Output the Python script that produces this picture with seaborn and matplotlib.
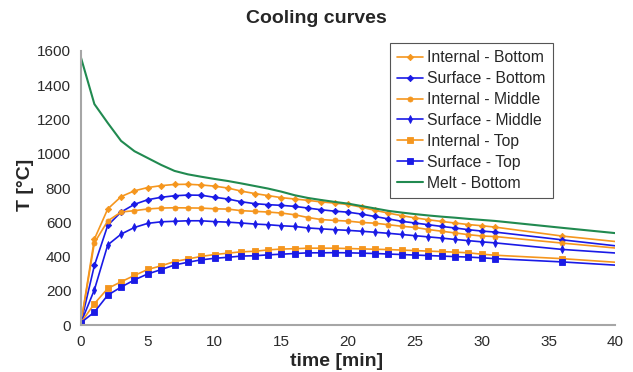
import numpy as np
import pandas as pd
import matplotlib
matplotlib.use("Agg")
import matplotlib.pyplot as plt
import seaborn as sns

# time axis (min)
time_min = list(range(0, 32)) + [36, 40]

internal_bottom = [15, 502, 678, 750, 784, 803, 814, 821, 822, 818, 811, 800, 782, 768, 756, 744,
                   736, 728, 719, 712, 704, 688, 670, 654, 639, 626, 615, 605, 596, 587, 580, 572,
                   520, 488]
surface_bottom = [15, 348, 582, 660, 705, 732, 746, 755, 759, 758, 746, 736, 720, 709, 703, 699,
                  693, 683, 673, 665, 659, 648, 634, 620, 606, 596, 586, 576, 567, 557, 549, 543,
                  498, 463]
internal_middle = [15, 480, 608, 660, 668, 678, 683, 685, 684, 683, 679, 677, 668, 664, 660, 654,
                   644, 628, 616, 611, 607, 599, 595, 586, 577, 570, 558, 548, 538, 528, 520, 517,
                   479, 450]
surface_middle = [15, 206, 468, 531, 570, 594, 603, 606, 609, 609, 604, 601, 596, 590, 586, 580,
                  576, 567, 562, 557, 553, 548, 542, 536, 529, 522, 515, 508, 500, 493, 486, 480,
                  442, 421]
internal_top = [15, 125, 214, 253, 290, 325, 346, 371, 386, 401, 412, 420, 428, 431, 439, 444,
                446, 449, 449, 449, 447, 445, 443, 441, 438, 435, 432, 429, 426, 422, 414, 408,
                388, 367]
surface_top = [15, 76, 175, 222, 264, 299, 324, 351, 367, 381, 390, 396, 403, 405, 410, 414,
               418, 422, 422, 423, 422, 420, 418, 415, 412, 409, 406, 403, 400, 397, 393, 388,
               369, 350]
melt_bottom = [1560, 1290, 1180, 1075, 1015, 975, 935, 900, 880, 866, 853, 841, 827, 812, 797, 779,
               758, 742, 730, 719, 709, 695, 681, 667, 657, 648, 640, 633, 627, 620, 614, 608,
               568, 537]

series_names = ["Internal - Bottom", "Surface - Bottom", "Internal - Middle",
                "Surface - Middle", "Internal - Top", "Surface - Top", "Melt - Bottom"]
series_values = [internal_bottom, surface_bottom, internal_middle,
                 surface_middle, internal_top, surface_top, melt_bottom]

ORANGE = "#F5961E"
BLUE = "#1A1AE6"
GREEN = "#218A50"
styles = {
    "Internal - Bottom": dict(color=ORANGE, marker="D", ms=3.2, lw=1.2),
    "Surface - Bottom": dict(color=BLUE, marker="D", ms=3.2, lw=1.2),
    "Internal - Middle": dict(color=ORANGE, marker="o", ms=3.6, lw=1.2),
    "Surface - Middle": dict(color=BLUE, marker="d", ms=4.0, lw=1.2),
    "Internal - Top": dict(color=ORANGE, marker="s", ms=4.2, lw=1.2),
    "Surface - Top": dict(color=BLUE, marker="s", ms=4.2, lw=1.2),
    "Melt - Bottom": dict(color=GREEN, marker=None, ms=0, lw=1.5),
}

df = pd.concat([pd.DataFrame({"time": time_min, "T": vals, "series": name})
                for name, vals in zip(series_names, series_values)], ignore_index=True)

sns.set_theme(style="white")
plt.rcParams["font.family"] = ["Liberation Sans", "DejaVu Sans"]

fig = plt.figure(figsize=(6.33, 3.72), dpi=100)
ax = fig.add_axes([0.128, 0.126, 0.844, 0.737])

# last point (t=40) has no marker in the original
mark_idx = list(range(len(time_min) - 1))
for name in series_names:
    st = styles[name]
    sub = df[df["series"] == name]
    kw = dict(color=st["color"], linewidth=st["lw"], label=name)
    if st["marker"]:
        kw.update(marker=st["marker"], markersize=st["ms"], markeredgewidth=0.6,
                  markeredgecolor=st["color"], markevery=mark_idx)
    sns.lineplot(data=sub, x="time", y="T", ax=ax, **kw)

ax.set_xlim(0, 40)
ax.set_ylim(0, 1600)
ax.set_xticks(range(0, 41, 5))
ax.set_yticks(range(0, 1601, 200))
for side in ["top", "right"]:
    ax.spines[side].set_visible(False)
for side in ["left", "bottom"]:
    ax.spines[side].set_color("#A6A6A6")
    ax.spines[side].set_linewidth(1.5)
ax.tick_params(axis="both", which="major", labelsize=11, colors="#A6A6A6",
               labelcolor="#2b2b2b", length=4, width=1.2, direction="out", pad=3)

ax.set_xlabel("time [min]", fontsize=14, fontweight="bold")
ax.xaxis.set_label_coords(0.479, -0.1)
ax.set_ylabel("T [°C]", fontsize=14, fontweight="bold")
ax.yaxis.set_label_coords(-0.088, 0.51)
fig.text(0.5, 0.95, "Cooling curves", ha="center", va="center",
         fontsize=14, fontweight="bold")

leg = ax.legend(loc="upper left", bbox_to_anchor=(0.579, 1.029), borderaxespad=0,
                fontsize=11.3, frameon=True, fancybox=False, edgecolor="#555555", framealpha=1,
                handlelength=1.6, handletextpad=0.3, labelspacing=0.38, borderpad=0.45)
leg.get_frame().set_linewidth(0.8)

fig.savefig("out.png", dpi=100)
